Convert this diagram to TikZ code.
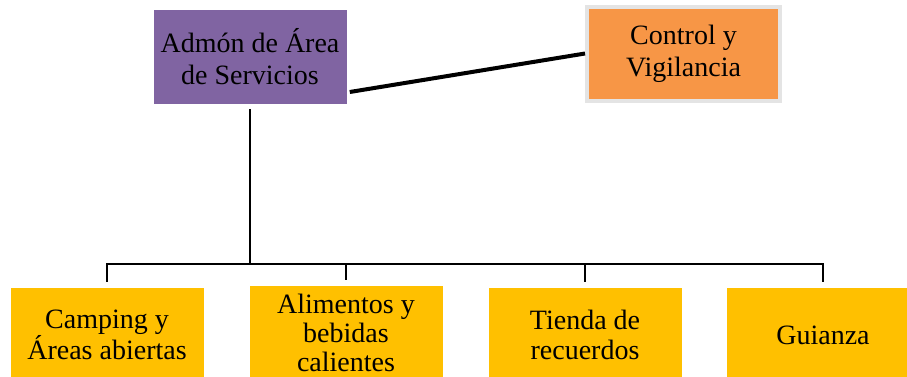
\documentclass[tikz,border=0pt]{standalone}
\usepackage{fontspec}
\setmainfont{Liberation Serif}
\usetikzlibrary{calc}

\definecolor{admonpurple}{HTML}{8064A2}
\definecolor{ctrlorange}{HTML}{F79646}
\definecolor{areagold}{HTML}{FFC000}
\definecolor{ctrlframe}{HTML}{E4E4E4}

\tikzset{
  box/.style={rectangle, minimum width=144.75pt, minimum height=70.5pt,
    inner sep=0pt, align=center, text=black,
    font=\fontsize{21}{24}\selectfont},
  areabox/.style={box, fill=areagold, font=\fontsize{21}{22}\selectfont},
  treeline/.style={line width=1.5pt},
  linkline/.style={line width=3pt}
}

\begin{document}
\begin{tikzpicture}[x=0.75pt,y=-0.75pt]

\useasboundingbox (0,0) rectangle (907,376);

% Cabeza
\node[box, fill=admonpurple] (admon) at (250,57)
{Admón de Área\\de Servicios};

\node[box, fill=ctrlorange, draw=ctrlframe, line width=3pt] (ctrl) at (683.5,53.5)
{Control y\\Vigilancia};

\draw[linkline]
($(admon.east)+(3,35)$)
--
(ctrl.west);

% Areas
\node[areabox] (camp) at (107,335)
{Camping y\\Áreas abiertas};

\node[areabox] (alim) at (346,333)
{Alimentos y\\bebidas\\calientes};

\node[areabox] (tien) at (585,335)
{Tienda de\\recuerdos};

\node[areabox] (guia) at (823,335)
{Guianza};

% Ramas
\coordinate (bus) at (250,264);

\draw[treeline] ($(admon.south)+(0,5)$) -- (bus);
\draw[treeline] ($(camp.north)+(0,-6)$) |- (bus) -| ($(guia.north)+(0,-6)$);
\draw[treeline] ($(alim.north)+(0,-6)$) -- (alim.north |- bus);
\draw[treeline] ($(tien.north)+(0,-6)$) -- (tien.north |- bus);

\end{tikzpicture}
\end{document}
